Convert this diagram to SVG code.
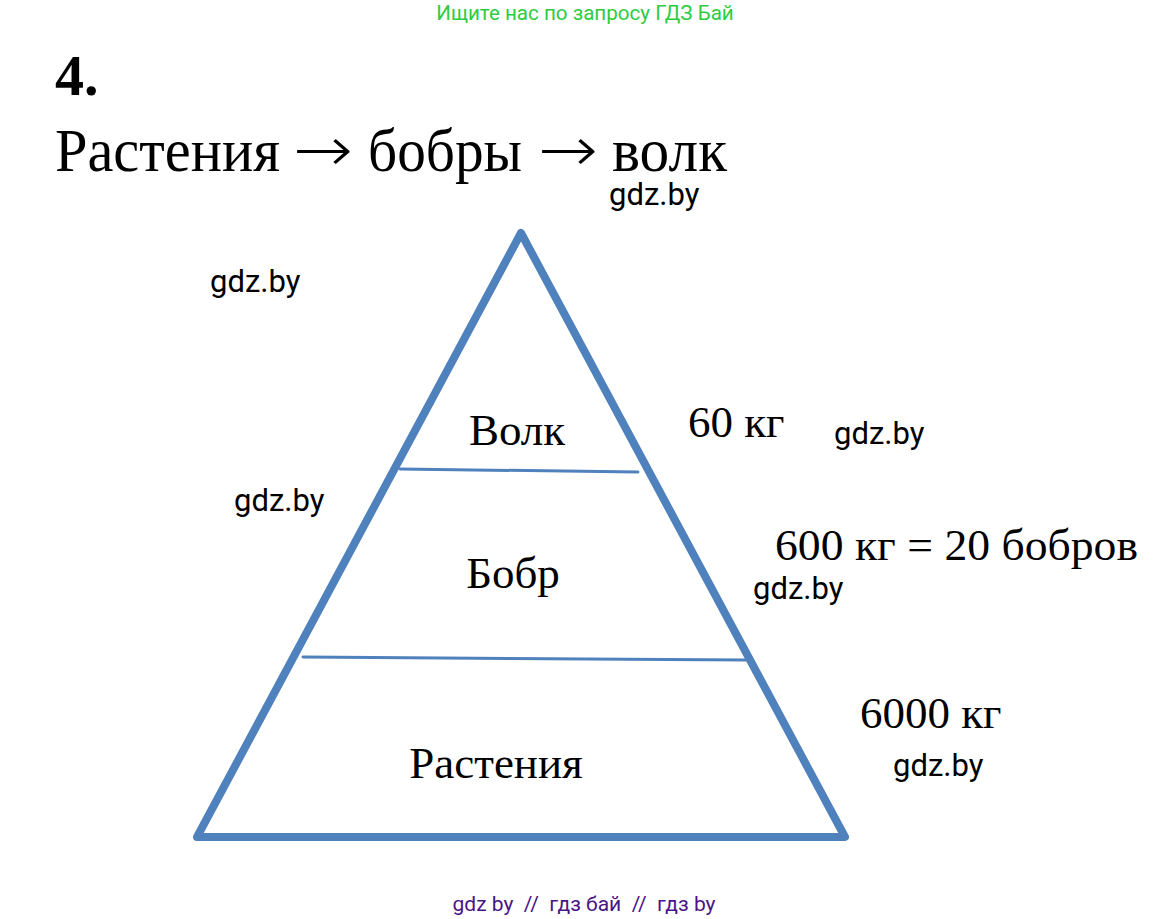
<svg xmlns="http://www.w3.org/2000/svg" width="1170" height="919" viewBox="0 0 1170 919">
<style>
.t{font-family:"Liberation Serif","Times New Roman",serif;fill:#000}
.ar{font-family:"DejaVu Sans ExtraLight","DejaVu Sans",sans-serif;font-weight:200}
.w{font-family:Roboto,"Liberation Sans",sans-serif;font-size:31px;fill:#000}
.edge{stroke:#4f81bd;fill:none;stroke-linecap:round;stroke-linejoin:round}
</style>
<rect width="1170" height="919" fill="#fff"/>
<text x="585" y="20" text-anchor="middle" font-family="Roboto,'Liberation Sans',sans-serif" font-size="20.6" fill="#2ecc40">Ищите нас по запросу ГДЗ Бай</text>
<text class="t" x="55" y="95" font-size="58" font-weight="bold">4.</text>
<text class="t" y="171" font-size="62"><tspan x="55" textLength="225" lengthAdjust="spacingAndGlyphs">Растения</tspan><tspan class="ar" x="293" font-size="62" textLength="60" lengthAdjust="spacingAndGlyphs">→</tspan><tspan x="368" textLength="154" lengthAdjust="spacingAndGlyphs">бобры</tspan><tspan class="ar" x="538" font-size="62" textLength="60" lengthAdjust="spacingAndGlyphs">→</tspan><tspan x="612" textLength="115" lengthAdjust="spacingAndGlyphs">волк</tspan></text>
<g id="pyramid">
<path class="edge" d="M521,233 L845,837 L197,837 Z" stroke-width="8"/>
</g>
<g id="connectors">
<path class="edge" d="M400,469 L638,472" stroke-width="3"/>
<path class="edge" d="M303,657 L746,660" stroke-width="3"/>
</g>
<g id="wolf"><text class="t" x="517" y="445" font-size="45" text-anchor="middle">Волк</text></g>
<g id="beaver"><text class="t" x="513" y="588" font-size="45" text-anchor="middle">Бобр</text></g>
<g id="plants"><text class="t" x="496" y="778" font-size="45" text-anchor="middle">Растения</text></g>
<g id="mass-wolf"><text class="t" x="688" y="437" font-size="45">60 кг</text></g>
<g id="mass-beaver"><text class="t" x="775" y="560" font-size="45" textLength="363" lengthAdjust="spacingAndGlyphs">600 кг = 20 бобров</text></g>
<g id="mass-plants"><text class="t" x="860" y="728" font-size="45">6000 кг</text></g>
<text class="w" x="609" y="205">gdz.by</text>
<text class="w" x="210" y="292">gdz.by</text>
<text class="w" x="834" y="444">gdz.by</text>
<text class="w" x="234" y="511">gdz.by</text>
<text class="w" x="753" y="599">gdz.by</text>
<text class="w" x="893" y="776">gdz.by</text>
<text x="584" y="911" text-anchor="middle" font-family="Roboto,'Liberation Sans',sans-serif" font-size="21" fill="#4b1585" xml:space="preserve">gdz by  //  гдз бай  //  гдз by</text>
</svg>
